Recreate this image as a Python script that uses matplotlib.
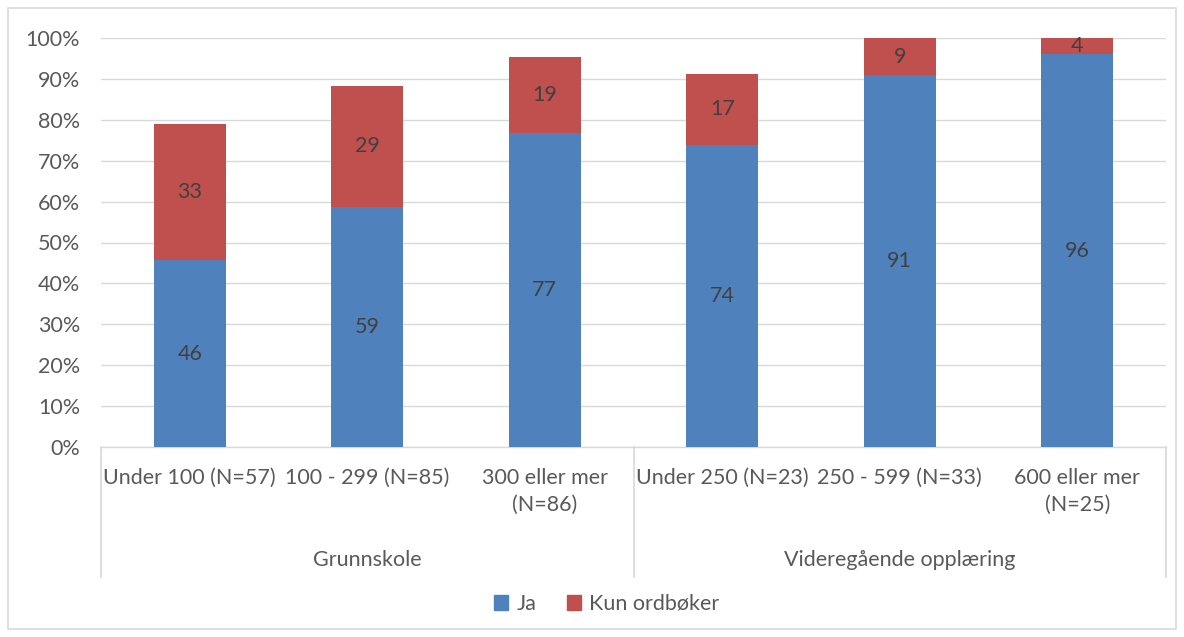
import matplotlib
matplotlib.use("Agg")
import matplotlib.pyplot as plt
from matplotlib.patches import Rectangle, Patch
import numpy as np

categories = ["Under 100 (N=57)", "100 - 299 (N=85)", "300 eller mer\n(N=86)",
              "Under 250 (N=23)", "250 - 599 (N=33)", "600 eller mer\n(N=25)"]
groups = ["Grunnskole", "Videregående opplæring"]
group_sizes = [3, 3]
ja = [45.6, 58.8, 76.7, 73.9, 90.9, 96.0]
kun_ordboker = [33.3, 29.4, 18.6, 17.4, 9.1, 4.0]
series_names = ["Ja", "Kun ordbøker"]
yticks = list(range(0, 101, 10))

BLUE = "#4F81BD"
RED = "#C0504D"
TXT = "#595959"
LBL = "#404040"
GRID = "#D9D9D9"
plt.rcParams['font.family'] = ['Lato', 'DejaVu Sans']
FS = 15.5

W, H = 1184, 637
fig = plt.figure(figsize=(W / 100, H / 100), dpi=100)
fig.patch.set_facecolor("white")
fig.patches.append(Rectangle((8 / W, 1 - 629 / H), (1176 - 8) / W, (629 - 8) / H,
                             transform=fig.transFigure, fill=False, edgecolor=GRID, lw=1.2))

left, right, top, bottom = 101, 1166, 38, 447
ax = fig.add_axes([left / W, 1 - bottom / H, (right - left) / W, (bottom - top) / H])
x = np.arange(len(categories))
bw = 0.405
b1 = ax.bar(x, ja, bw, color=BLUE, zorder=3, label=series_names[0])
b2 = ax.bar(x, kun_ordboker, bw, bottom=ja, color=RED, zorder=3, label=series_names[1])
for rects, vals, bots in ((b1, ja, [0] * 6), (b2, kun_ordboker, ja)):
    for xi, v, b in zip(x, vals, bots):
        ax.text(xi, b + v / 2, f"{v:.0f}", ha="center", va="center", fontsize=FS, color=LBL, zorder=4)

ax.set_xlim(-0.5, len(categories) - 0.5)
ax.set_ylim(0, 100)
ax.set_yticks(yticks)
ax.set_yticklabels([f"{t}%" for t in yticks], fontsize=FS, color=TXT)
ax.tick_params(axis="y", length=0, pad=15)
ax.set_xticks([])
ax.grid(axis="y", color=GRID, lw=1, zorder=0)
for s in ["top", "right", "left"]:
    ax.spines[s].set_visible(False)
ax.spines["bottom"].set_color(GRID)
ax.spines["bottom"].set_linewidth(1)

ah = bottom - top
def fy(px):  # pixels below axis -> axes fraction
    return -px / ah

trans = ax.get_xaxis_transform()
for i, c in enumerate(categories):
    ax.text(i, fy(21), c, transform=trans, ha="center", va="top", fontsize=FS,
            color=TXT, linespacing=1.45)
# separators
pos = -0.5
bounds = [pos]
for g in group_sizes:
    pos += g
    bounds.append(pos)
for b in bounds:
    ax.plot([b, b], [0, fy(130)], transform=trans, color=GRID, lw=1.2, clip_on=False)
for gi, g in enumerate(groups):
    cx = (bounds[gi] + bounds[gi + 1]) / 2
    ax.text(cx, fy(113), g, transform=trans, ha="center", va="center", fontsize=FS, color=TXT)

handles = [Patch(color=BLUE), Patch(color=RED)]
fig.legend(handles, series_names, loc="center", bbox_to_anchor=(607 / W, 1 - 604 / H),
           ncol=2, frameon=False, fontsize=FS, labelcolor=TXT, handlelength=0.65,
           handleheight=0.65, handletextpad=0.4, columnspacing=1.4)

fig.savefig("out.png", dpi=100)
